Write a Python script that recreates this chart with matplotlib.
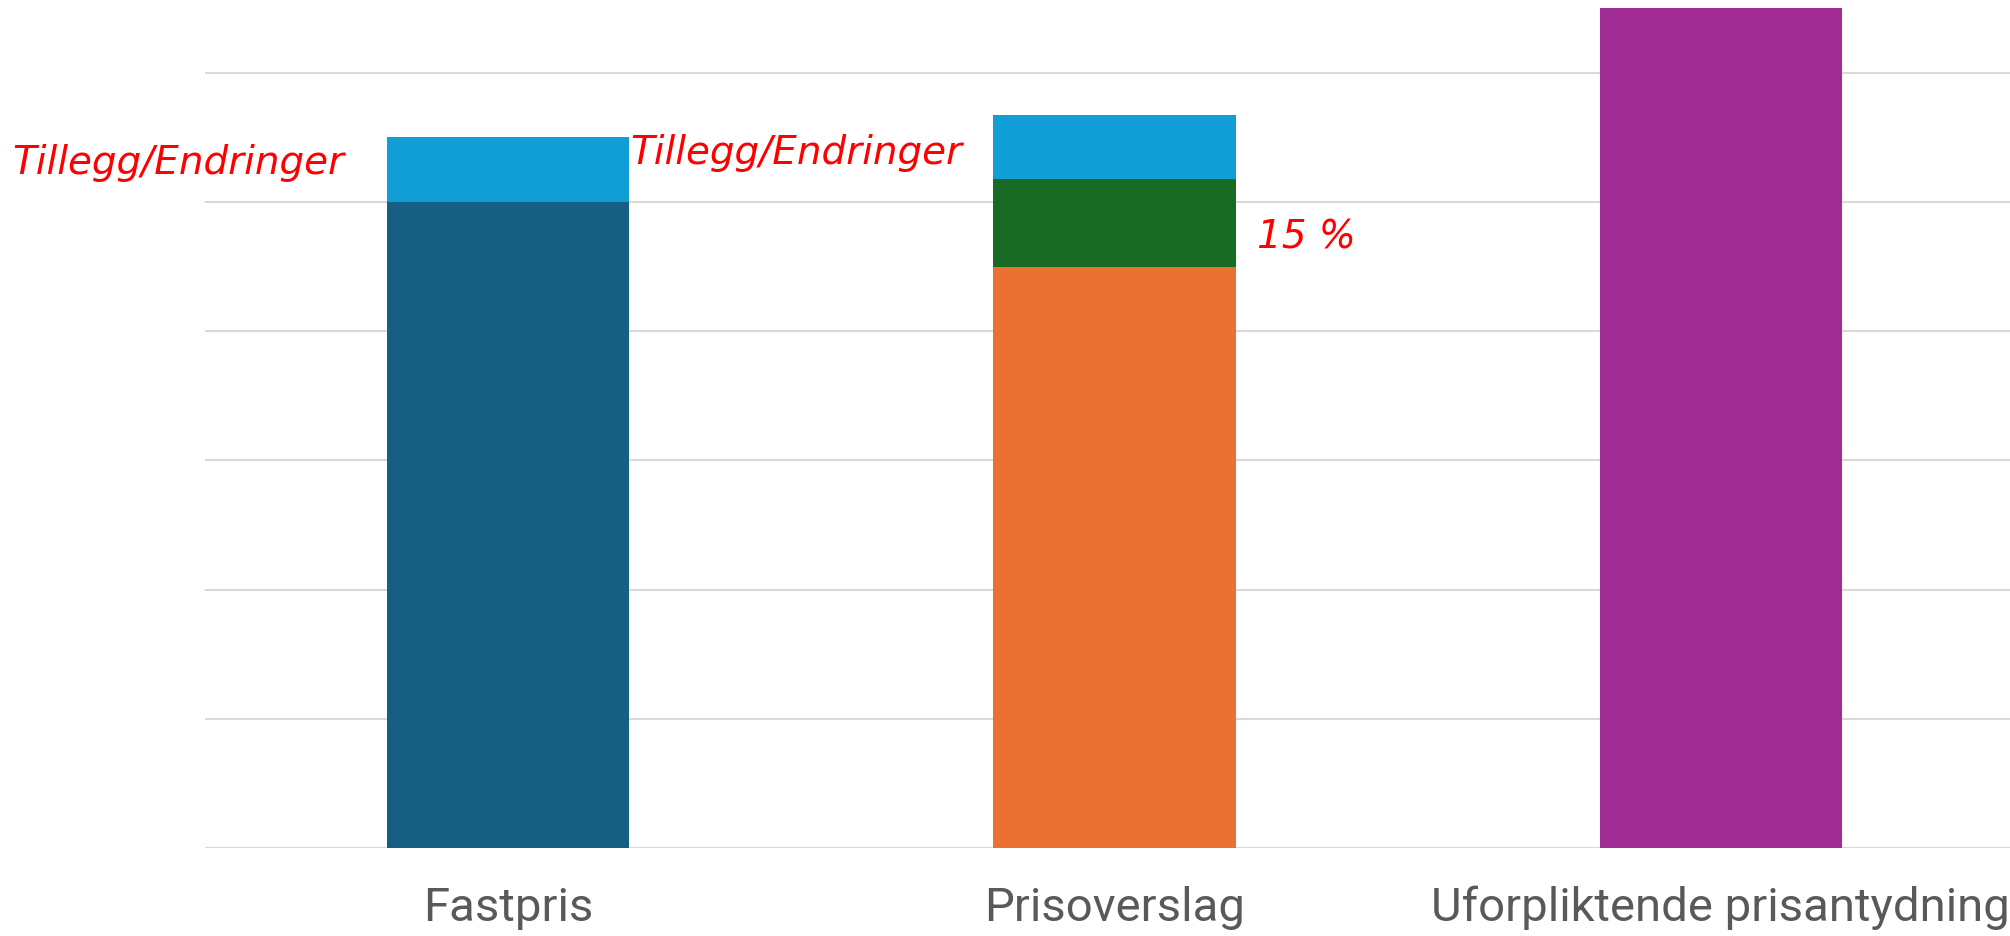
import matplotlib.pyplot as plt
import numpy as np

# Price type categories and stacked segments (in grid units)
categories = ["Fastpris", "Prisoverslag", "Uforpliktende prisantydning"]
base_values = [5.0, 4.5, 6.5]
margin_values = [0.0, 0.675, 0.0]      # 15 % of prisoverslag
tillegg_values = [0.5, 0.5, 0.0]

base_colors = ["#156082", "#E97132", "#A02B93"]
margin_color = "#196B24"
tillegg_color = "#0F9ED5"
note_color = "#FF0000"

fig = plt.figure(figsize=(20.1, 9.37), dpi=100)
# axes runs slightly past the right edge, as in the cropped original
ax = fig.add_axes([205 / 2010, 88 / 937, 1819 / 2010, 849 / 937])

x = np.arange(len(categories))
width = 0.4
base = np.array(base_values)
margin = np.array(margin_values)
tillegg = np.array(tillegg_values)

ax.bar(x, base, width, color=base_colors, zorder=2)
ax.bar(x, margin, width, bottom=base, color=margin_color, zorder=2)
ax.bar(x, tillegg, width, bottom=base + margin, color=tillegg_color, zorder=2)

ax.set_xlim(-0.5, 2.5)
ax.set_ylim(0, 849 / 129.2)
ax.set_yticks(np.arange(0, 7))
ax.yaxis.grid(True, color="#d9d9d9", linewidth=1.5, zorder=0)
ax.tick_params(axis="y", left=False, labelleft=False)
ax.tick_params(axis="x", bottom=False, pad=23)
ax.set_xticks(x)
ax.set_xticklabels(categories, fontsize=34, color="#595959", family="Roboto")
for s in ax.spines.values():
    s.set_visible(False)

note_font = dict(color=note_color, fontsize=28, style="italic", family="DejaVu Sans")
ax.text(x[0] - width / 2 - 0.07, base[0] + 0.31, "Tillegg/Endringer",
        ha="right", va="center", **note_font)
ax.text(x[0] + width / 2 + 0.002, base[0] + 0.39, "Tillegg/Endringer",
        ha="left", va="center", **note_font)
ax.text(x[1] + width / 2 + 0.035, base[1] + 0.23, "15 %",
        ha="left", va="center", **note_font)

fig.savefig("out.png", dpi=100)
